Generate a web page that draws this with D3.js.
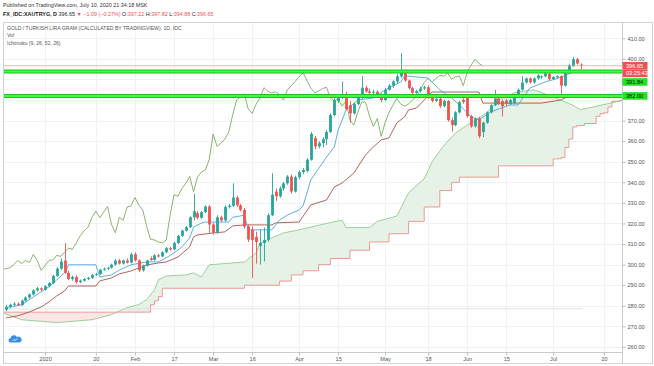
<!DOCTYPE html>
<html><head><meta charset="utf-8">
<script src="https://cdn.jsdelivr.net/npm/d3@7"></script>
<style>
body{margin:0;background:#fff;}
svg{display:block;font-family:"Liberation Sans",Arial,sans-serif;}
</style>
</head><body>
<svg id="c" width="654" height="366"></svg>
<script>
// ---------- DATA (bar index 0 = 1 Jan 2020, daily trading bars) ----------
const startIndex = -10;
const opens = [
278.0,279.5,280.5,281.0,280.4,282.5,284.0,285.5,287.5,288.5,
287.8,289.5,291.0,294.5,298.0,302.0,296.0,293.0,294.0,291.5,
292.2,293.0,293.6,295.0,295.4,297.5,298.0,298.5,300.0,302.0,
300.5,302.0,301.0,305.0,302.0,297.2,299.5,303.0,302.3,304.5,
304.0,306.0,308.0,307.4,310.5,314.0,316.5,318.2,323.0,325.0,
322.8,325.5,328.2,319.5,315.5,323.0,321.5,328.0,328.6,332.6,
328.8,326.6,318.5,317.0,313.5,309.0,310.5,312.0,324.0,335.5,
333.2,337.0,339.5,342.8,335.5,342.5,345.0,345.5,351.0,361.5,
357.5,359.0,361.0,364.5,372.7,379.5,381.5,383.0,377.5,373.5,
378.0,381.0,386.0,384.2,383.5,384.0,382.5,380.0,385.0,387.0,
389.0,391.5,393.2,389.5,385.8,383.5,384.4,385.6,386.2,381.0,
379.6,380.6,377.0,379.5,370.2,367.8,374.0,380.0,381.0,372.2,
367.2,371.0,364.5,369.0,374.0,377.5,380.8,379.5,379.8,378.0,
378.5,381.5,385.0,388.5,390.5,388.6,390.5,391.0,391.5,392.8,
390.2,391.0,391.6,387.0,393.5,396.5,399.8,397.22];
const highs = [
280.5,281.0,281.8,281.6,283.0,284.5,286.0,288.0,289.2,289.0,
290.0,291.5,295.0,298.8,303.0,310.5,297.0,294.6,294.8,292.8,
293.5,294.0,295.6,296.0,298.0,298.6,299.0,300.5,302.6,302.8,
302.5,303.0,305.8,306.0,302.6,300.0,302.4,304.0,305.0,305.2,
306.5,308.5,308.6,311.0,314.5,317.0,318.8,323.5,334.5,326.0,
326.0,328.8,329.0,320.2,324.0,323.8,328.8,329.5,339.5,333.5,
329.5,327.5,319.5,318.5,316.0,317.0,318.0,325.0,344.4,337.0,
338.0,340.2,343.5,343.8,343.2,345.8,347.0,351.8,364.5,362.5,
360.0,362.0,365.5,373.5,380.8,382.5,389.0,384.0,379.5,378.8,
382.0,391.5,387.0,385.5,385.0,384.8,383.2,385.8,387.8,389.6,
392.5,402.7,394.0,390.0,386.5,385.0,386.5,387.0,387.0,382.4,
381.5,381.2,380.2,380.0,371.5,374.6,379.6,381.0,381.8,372.8,
371.5,371.8,369.5,374.5,378.0,385.0,381.4,380.2,380.5,380.5,
382.0,385.6,391.5,391.0,391.0,391.0,392.5,392.0,393.6,393.2,
391.6,392.0,392.0,394.0,397.6,401.0,400.5,397.82];
const lows = [
277.3,278.8,279.8,279.9,280.0,282.0,283.5,285.0,286.8,287.2,
287.3,289.0,290.5,294.0,297.5,295.5,292.5,292.2,290.8,290.9,
291.7,292.4,293.0,294.4,295.0,297.0,297.4,298.0,299.5,300.0,
300.0,300.5,300.6,301.5,296.5,296.6,299.0,301.8,301.8,303.4,
303.6,305.5,306.8,307.0,310.0,313.5,316.0,317.8,321.5,322.0,
322.2,325.0,315.5,314.6,315.0,320.8,321.0,327.2,328.0,328.0,
325.8,317.5,311.0,293.5,300.5,300.0,301.5,311.0,323.5,331.0,
332.5,336.0,338.8,334.5,335.0,341.5,344.0,344.8,350.5,356.0,
356.5,357.0,358.0,364.0,372.0,378.5,380.5,375.0,369.0,373.0,
377.5,380.5,383.5,383.0,383.0,381.8,379.0,379.5,384.5,386.0,
388.0,390.8,388.8,385.0,382.8,383.0,383.8,385.0,380.4,378.8,
379.0,376.2,376.5,369.5,364.6,367.2,373.5,378.2,371.5,366.5,
366.6,361.4,362.0,368.5,373.5,377.0,377.5,372.0,377.2,377.6,
378.0,381.0,384.6,388.0,388.0,388.0,389.8,390.2,391.0,389.6,
389.8,390.6,383.0,386.5,393.0,396.0,397.2,394.88];
const closes = [
279.5,280.5,281.0,280.4,282.5,284.0,285.5,287.5,288.5,287.8,
289.5,291.0,294.5,298.0,301.5,296.0,293.0,294.0,291.5,292.2,
293.0,293.6,295.0,295.4,297.5,298.0,298.5,300.0,302.0,300.5,
302.0,301.0,305.0,302.0,297.2,299.5,302.0,302.3,304.5,304.0,
306.0,308.0,307.4,310.5,314.0,316.5,318.2,323.0,326.0,322.8,
325.5,328.2,319.5,315.5,323.0,321.5,328.0,328.6,332.6,328.8,
326.6,318.5,312.2,312.0,311.0,310.5,312.0,324.0,334.0,333.2,
337.0,339.5,342.8,335.5,342.5,345.0,346.0,351.0,363.5,357.5,
359.0,361.0,364.5,372.7,380.0,381.5,383.0,375.5,373.5,378.0,
381.0,386.0,384.2,383.5,384.0,382.5,380.0,385.0,387.0,389.0,
391.5,393.2,389.5,385.8,383.5,384.4,385.6,386.2,381.0,379.6,
380.6,377.0,379.5,370.2,367.8,374.0,379.0,379.0,372.2,367.2,
371.0,362.4,369.0,374.0,377.5,380.8,378.0,377.0,378.0,380.0,
381.5,385.0,388.5,390.5,388.6,390.5,392.0,391.5,393.0,390.2,
391.2,391.6,387.0,393.5,397.0,399.8,397.74,396.65];

// Ichimoku lines: [bar index, value]
const tenkan = [[-10,279],[-6,280.4],[-3,284.3],[0,288],[1,289.2],[3,292.6],[5,296],[6,299.9],[13,299.9],[14,294],[17,295],[19,297.4],[22,299.9],[26,301.3],[29,301.3],[31,303.3],[33,305.7],[35,308.6],[37,313],[38,318.3],[40,320.2],[41,320.7],[47,320.7],[48,323],[51,324],[52,316.9],[58,316.9],[60,321.7],[62,324.1],[65,326.6],[66,328.5],[68,341.2],[72,352.3],[74,357.2],[75,365.4],[77,375.2],[80,380],[84,381],[87,384.9],[91,388.8],[92,391.7],[98,390.7],[101,384.9],[104,381],[106,377.6],[109,371.8],[111,370.3],[114,374.2],[119,377.6],[121,377.6],[124,385.8],[128,388.8],[132,391],[135,393.5],[137,394]];
const kijun = [[-10,274.1],[-7,275.1],[-4,277],[-1,279.4],[1,281.9],[3,284.8],[5,287.2],[6,289.6],[13,289.6],[14,292.1],[17,293.5],[19,295.5],[22,296.9],[24,298.4],[26,299.8],[29,300.8],[31,301.3],[34,303.7],[37,308.6],[38,313.5],[39,314.4],[43,315.4],[46,315.9],[48,318.8],[51,319.3],[58,319.3],[59,320.3],[65,320.7],[68,329],[72,331.4],[74,337.7],[76,339.7],[79,344.5],[82,353.3],[84,357.2],[86,360.6],[88,361.6],[90,368.9],[92,371.8],[93,375.2],[95,376.1],[99,383.9],[111,383.9],[112,378.5],[127,378.5],[132,380],[134,382],[137,382]];
const spanA = [[-11,276.7],[-6,273.2],[3,271.8],[12,273.2],[17,275.7],[21,279.1],[24,280.6],[26,283],[28,287.8],[29,292.6],[31,294.5],[36,295],[38,296],[40,294],[42,299.9],[48,300.8],[51,301.3],[54,305.7],[55,310.5],[61,315.4],[65,316.9],[72,320],[76,321.6],[77,318],[83,318],[85,321],[90,323.6],[93,335],[97,341.7],[99,350],[102,357.8],[105,364],[109,369],[113,373.8],[116,380],[120,383.5],[125,385],[130,381.5],[135,377.5],[137,375.3],[143,377.8],[149,380.3]];
const spanB = [[-11,276.9],[27,280.5],[28,282.4],[29,284.5],[30,288.5],[51,290],[60,292],[63,295],[66,297],[70,300],[73,303],[78,307],[83,311],[88,315],[93,321],[97,328],[101,336],[104,340],[106,342.5],[116,348],[130,351.4],[132,352.1],[133,356.9],[134,361],[135,366.9],[136,367.6],[138,368.6],[141,372.1],[142,373.4],[143,373.8],[144,376.6],[145,379.4],[147,379.9],[149,379.9]];
const laggingShift = 25;

const xTickIdx = [0,13,23,33,43,53,65,75,87,98,108,118,130,143];
const xTickLabels = ["2020","20","Feb","17","Mar","16","Apr","15","May","18","Jun","15","Jul","20"];
const gridTicks = [260,270,280,290,300,310,320,330,340,350,360,370,380,390,400,410];
const yLabelTicks = [260,270,280,290,300,310,320,330,340,350,360,370,400,410];

const levelLines = [393.9, 382.0];
const levelLabels = [391.84, 382.00];
const lastPrice = 396.65;
const countdown = "03:25:43";
const flatLevel = 278.5;

// ---------- DRAWING ----------
const svg = d3.select("#c");
const P = {l:3, r:622, t:22, b:352, bottom:363, right:652};
const x = d3.scaleLinear().domain([-10.5,147.6]).range([4,622]);
const y = d3.scaleLinear().domain([260,410]).range([346.9,38.3]);
const FONT = '"Liberation Sans",Arial,sans-serif';
const UP = "#26a69a", DOWN = "#ef5350";

svg.append("rect").attr("width",654).attr("height",366).attr("fill","#fff");

// header
svg.append("text").attr("x",3).attr("y",7).attr("font-size",5.4).attr("fill","#333")
  .text("Published on TradingView.com, July 10, 2020 21:34:18 MSK");
const h2 = svg.append("text").attr("x",3).attr("y",15.5).attr("font-size",5.4).attr("fill","#222");
h2.append("tspan").attr("font-weight","bold").text("FX_IDC:XAUTRYG, D ");
h2.append("tspan").text("396.65 ");
h2.append("tspan").attr("fill",DOWN).text("▼ ");
h2.append("tspan").attr("fill",DOWN).text("−1.09 (−0.27%) ");
[["O:","397.22"],["H:","397.82"],["L:","394.88"],["C:","396.65"]].forEach(([k,v])=>{
  h2.append("tspan").text(k);
  h2.append("tspan").attr("fill",DOWN).text(v+" ");
});

// frame
svg.append("rect").attr("x",P.l+0.5).attr("y",P.t+0.5).attr("width",P.right-P.l).attr("height",P.bottom-P.t)
  .attr("fill","none").attr("stroke","#d0d3d8");
svg.append("line").attr("x1",P.r+0.5).attr("x2",P.r+0.5).attr("y1",P.t).attr("y2",P.bottom).attr("stroke","#c8cbd0");
svg.append("line").attr("x1",P.l).attr("x2",P.r).attr("y1",P.b+0.5).attr("y2",P.b+0.5).attr("stroke","#c8cbd0");

// grid
const grid = svg.append("g");
grid.selectAll(".vg").data(xTickIdx).join("line")
  .attr("x1",d=>Math.round(x(d))+0.5).attr("x2",d=>Math.round(x(d))+0.5)
  .attr("y1",P.t+1).attr("y2",P.b).attr("stroke","#f0f2f5");
grid.selectAll(".hg").data(gridTicks).join("line")
  .attr("x1",P.l+1).attr("x2",P.r).attr("y1",d=>Math.round(y(d))+0.5).attr("y2",d=>Math.round(y(d))+0.5)
  .attr("stroke","#f0f2f5");

// clip
const defs = svg.append("defs");
defs.append("clipPath").attr("id","plotclip").append("rect")
  .attr("x",P.l+1).attr("y",P.t+1).attr("width",P.r-P.l-1).attr("height",P.b-P.t-1);
const plot = svg.append("g").attr("clip-path","url(#plotclip)");

// cloud
const X = d=>x(d[0]), Y = d=>y(d[1]);
defs.append("clipPath").attr("id","aboveB").append("path")
  .attr("d", d3.area().curve(d3.curveStepAfter).x(X).y0(P.t).y1(Y)(spanB));
defs.append("clipPath").attr("id","aboveA").append("path")
  .attr("d", d3.area().x(X).y0(P.t).y1(Y)(spanA));
plot.append("g").attr("clip-path","url(#aboveB)").append("path")
  .attr("d", d3.area().x(X).y0(P.b).y1(Y)(spanA)).attr("fill","#e6f2e6");
plot.append("g").attr("clip-path","url(#aboveA)").append("path")
  .attr("d", d3.area().curve(d3.curveStepAfter).x(X).y0(P.b).y1(Y)(spanB)).attr("fill","#fbe6e6");
plot.append("path").attr("d", d3.line().x(X).y(Y)(spanA)).attr("fill","none").attr("stroke","#93c993").attr("stroke-width",0.9);
plot.append("path").attr("d", d3.line().curve(d3.curveStepAfter).x(X).y(Y)(spanB)).attr("fill","none").attr("stroke","#ec8f8a").attr("stroke-width",0.9);

// flat thin line
plot.append("line").attr("x1",P.l).attr("x2",x(137.5)).attr("y1",y(flatLevel)).attr("y2",y(flatLevel))
  .attr("stroke","#d9d9d9").attr("stroke-width",0.8);

// lagging span
const bars = closes.map((c,k)=>({i:k+startIndex,o:opens[k],h:highs[k],l:lows[k],c:c}));
plot.append("path").attr("d", d3.line().x(d=>x(d.i-laggingShift)).y(d=>y(d.c))(bars))
  .attr("fill","none").attr("stroke","#7cab5c").attr("stroke-width",0.9);
// kijun & tenkan
plot.append("path").attr("d", d3.line().x(X).y(Y)(kijun)).attr("fill","none").attr("stroke","#a8514c").attr("stroke-width",0.9);
plot.append("path").attr("d", d3.line().x(X).y(Y)(tenkan)).attr("fill","none").attr("stroke","#4ea3e6").attr("stroke-width",0.9);

// candles
const cg = plot.append("g");
cg.selectAll("line.w").data(bars).join("line")
  .attr("x1",d=>Math.round(x(d.i))+0.5).attr("x2",d=>Math.round(x(d.i))+0.5)
  .attr("y1",d=>y(d.h)).attr("y2",d=>y(d.l))
  .attr("stroke",d=>d.c>=d.o?UP:DOWN).attr("stroke-width",0.9);
cg.selectAll("rect").data(bars).join("rect")
  .attr("x",d=>Math.round(x(d.i))+0.5-1.4).attr("width",2.8)
  .attr("y",d=>y(Math.max(d.o,d.c))).attr("height",d=>Math.max(0.8,Math.abs(y(d.o)-y(d.c))))
  .attr("fill",d=>d.c>=d.o?UP:DOWN);

// last price line
plot.append("line").attr("x1",P.l).attr("x2",P.r).attr("y1",y(lastPrice)).attr("y2",y(lastPrice))
  .attr("stroke","#f2a09d").attr("stroke-width",0.8);

// level lines
levelLines.forEach(v=>{
  plot.append("line").attr("x1",P.l).attr("x2",P.r).attr("y1",y(v)).attr("y2",y(v))
    .attr("stroke","#20c020").attr("stroke-width",4);
  plot.append("line").attr("x1",P.l).attr("x2",P.r).attr("y1",y(v)).attr("y2",y(v))
    .attr("stroke","#3dff3d").attr("stroke-width",2);
});

// legend
const lg = svg.append("g").attr("font-size",5.1).attr("fill","#555");
lg.append("text").attr("x",7).attr("y",30.2).text("GOLD / TURKISH LIRA GRAM (CALCULATED BY TRADINGVIEW), 1D, IDC");
lg.append("text").attr("x",7).attr("y",37.2).text("Vol");
lg.append("text").attr("x",7).attr("y",44.6).text("Ichimoku (9, 26, 52, 26)");

// axes
const yAxis = d3.axisRight(y).tickValues(yLabelTicks).tickFormat(d3.format(".2f")).tickSize(3).tickPadding(2);
const ya = svg.append("g").attr("transform",`translate(${P.r+0.5},0)`).call(yAxis);
ya.select(".domain").remove();
ya.selectAll("line").attr("stroke","#b8bcc2");
ya.selectAll("text").attr("font-size",5.6).attr("fill","#555").attr("font-family",FONT);

const xAxis = d3.axisBottom(x).tickValues(xTickIdx).tickFormat((d,k)=>xTickLabels[k]).tickSize(3).tickPadding(2);
const xa = svg.append("g").attr("transform",`translate(0,${P.b+0.5})`).call(xAxis);
xa.select(".domain").remove();
xa.selectAll("line").attr("stroke","#b8bcc2");
xa.selectAll("text").attr("font-size",5.6).attr("fill","#555").attr("font-family",FONT);

// axis price labels (stacked like TradingView)
const labH = 7.6, labX = P.r+0.5, labW = 25;
let nextTop = -Infinity;
const labs = [
  {v:lastPrice, t:"396.65", fill:DOWN, tc:"#fff"},
  {v:null, t:countdown, fill:DOWN, tc:"#fff"},
  {v:levelLabels[0], t:levelLabels[0].toFixed(2), fill:"#22e322", tc:"#111"},
  {v:levelLabels[1], t:levelLabels[1].toFixed(2), fill:"#22e322", tc:"#111"}
];
labs.forEach(L=>{
  let top = L.v===null ? nextTop : Math.max(y(L.v)-labH/2, nextTop);
  svg.append("rect").attr("x",labX).attr("y",top).attr("width",labW).attr("height",labH).attr("fill",L.fill);
  svg.append("text").attr("x",labX+3.5).attr("y",top+labH/2+2).attr("font-size",5.6).attr("fill",L.tc).text(L.t);
  nextTop = top + labH + (L.v===null?1:0);
});

// logo
const logo = svg.append("g").attr("transform","translate(15,340)");
logo.append("path").attr("d","M-5,2.5 a2.4,2.4 0 0 1 0.6,-4.6 a3.4,3.4 0 0 1 6.4,-0.8 a2.7,2.7 0 0 1 2.9,5.4 z").attr("fill","#3c8fe0");
logo.append("path").attr("d","M-2.5,1 l1.5,-1.6 l1.3,1.1 l1.8,-2").attr("fill","none").attr("stroke","#fff").attr("stroke-width",0.8);
</script>
</body></html>
